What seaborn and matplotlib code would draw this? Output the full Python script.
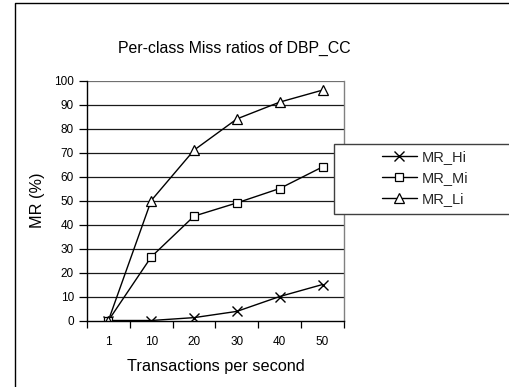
import matplotlib
matplotlib.use("Agg")
import matplotlib.pyplot as plt
from matplotlib.patches import Rectangle
from matplotlib.lines import Line2D
from matplotlib.ticker import FixedLocator, NullFormatter
import seaborn as sns
import pandas as pd

categories = ["1", "10", "20", "30", "40", "50"]
mr_hi = [0, 0, 1.2, 3.8, 10, 15]
mr_mi = [0, 26.5, 43.5, 49, 55, 64]
mr_li = [0, 50, 71, 84, 91, 96]
series_names = ["MR_Hi", "MR_Mi", "MR_Li"]
title = "Per-class Miss ratios of DBP_CC"
xlabel = "Transactions per second"
ylabel = "MR (%)"
yticks = [0, 10, 20, 30, 40, 50, 60, 70, 80, 90, 100]

sns.set_theme(style="white")
plt.rcParams["font.family"] = ["Liberation Sans", "DejaVu Sans"]

W, H = 510, 387
fig = plt.figure(figsize=(W / 100, H / 100), dpi=100)
fig.patch.set_facecolor("white")
fig.patch.set_edgecolor("white")
fig.patch.set_linewidth(0)

# outer chart frame (left and top edges only visible)
fig.add_artist(Line2D([15.5 / W, 15.5 / W, 1.2], [-0.2, 1 - 2.5 / H, 1 - 2.5 / H],
                      transform=fig.transFigure, color="black", linewidth=1.0,
                      solid_capstyle="butt", zorder=1))

left, right, top, bottom = 87, 344, 80.5, 320.5
ax = fig.add_axes([left / W, 1 - bottom / H, (right - left) / W, (bottom - top) / H])
ax.set_zorder(2)
ax.set_facecolor("white")

df = pd.DataFrame({"x": categories * 3,
                   "y": mr_hi + mr_mi + mr_li,
                   "series": sum([[s] * len(categories) for s in series_names], [])})

marker_styles = {
    "MR_Hi": dict(marker="x", markersize=6.5, markeredgewidth=1.0),
    "MR_Mi": dict(marker="s", markersize=5.2, markeredgewidth=0.9, markerfacecolor="white"),
    "MR_Li": dict(marker="^", markersize=7, markeredgewidth=0.9, markerfacecolor="white"),
}
for name in series_names:
    sub = df[df["series"] == name]
    sns.lineplot(data=sub, x="x", y="y", ax=ax, color="black", linewidth=1.0,
                 markeredgecolor="black", label=name, sort=False, **marker_styles[name])

ax.set_xlim(-0.5, len(categories) - 0.5)
ax.set_ylim(0, 100)
ax.set_yticks(yticks)
ax.set_yticklabels([str(v) for v in yticks])
ax.set_xticks(range(len(categories)))
ax.set_xticklabels(categories)
ax.xaxis.set_minor_locator(FixedLocator([i - 0.5 for i in range(len(categories) + 1)]))
ax.xaxis.set_minor_formatter(NullFormatter())
ax.tick_params(axis="x", which="major", length=0, pad=11, labelsize=8.5, colors="black")
ax.tick_params(axis="x", which="minor", length=5, width=0.9, direction="out", color="black", bottom=True)
ax.tick_params(axis="y", which="major", length=5.5, width=0.9, direction="out", pad=4,
               labelsize=8.5, colors="black", left=True)
for v in yticks[1:]:
    ax.axhline(v, color="#1a1a1a" if v < 100 else "#707070", linewidth=0.9, zorder=0.5)
ax.spines["left"].set_color("black")
ax.spines["left"].set_linewidth(1.0)
ax.spines["bottom"].set_color("black")
ax.spines["bottom"].set_linewidth(1.0)
ax.spines["right"].set_color("#808080")
ax.spines["right"].set_linewidth(1.0)
ax.spines["top"].set_visible(False)
ax.set_xlabel("")
ax.set_ylabel("")

handles, labels = ax.get_legend_handles_labels()
if ax.get_legend() is not None:
    ax.get_legend().remove()

# legend box (extends past right edge)
fig.add_artist(Rectangle((334 / W, 1 - 214 / H), 0.5, 70 / H,
                         transform=fig.transFigure, facecolor="white",
                         edgecolor="#404040", linewidth=1.0, clip_on=False, zorder=4))
leg = fig.legend(handles, labels, loc="center left",
                 bbox_to_anchor=(382 / W, 1 - 178 / H), bbox_transform=fig.transFigure,
                 frameon=False, fontsize=10.5, handlelength=2.4, handletextpad=0.35,
                 labelspacing=0.5, borderpad=0, borderaxespad=0)
leg.set_zorder(6)

fig.text(234 / W, 1 - 48 / H, title, ha="center", va="center", fontsize=11.4, color="black")
fig.text(216 / W, 1 - 367 / H, xlabel, ha="center", va="center", fontsize=11.7, color="black")
fig.text(37.5 / W, 1 - 200.5 / H, ylabel, ha="center", va="center", rotation=90,
         fontsize=11.7, color="black")

fig.savefig("out.png", dpi=100, facecolor="white", edgecolor="white")
